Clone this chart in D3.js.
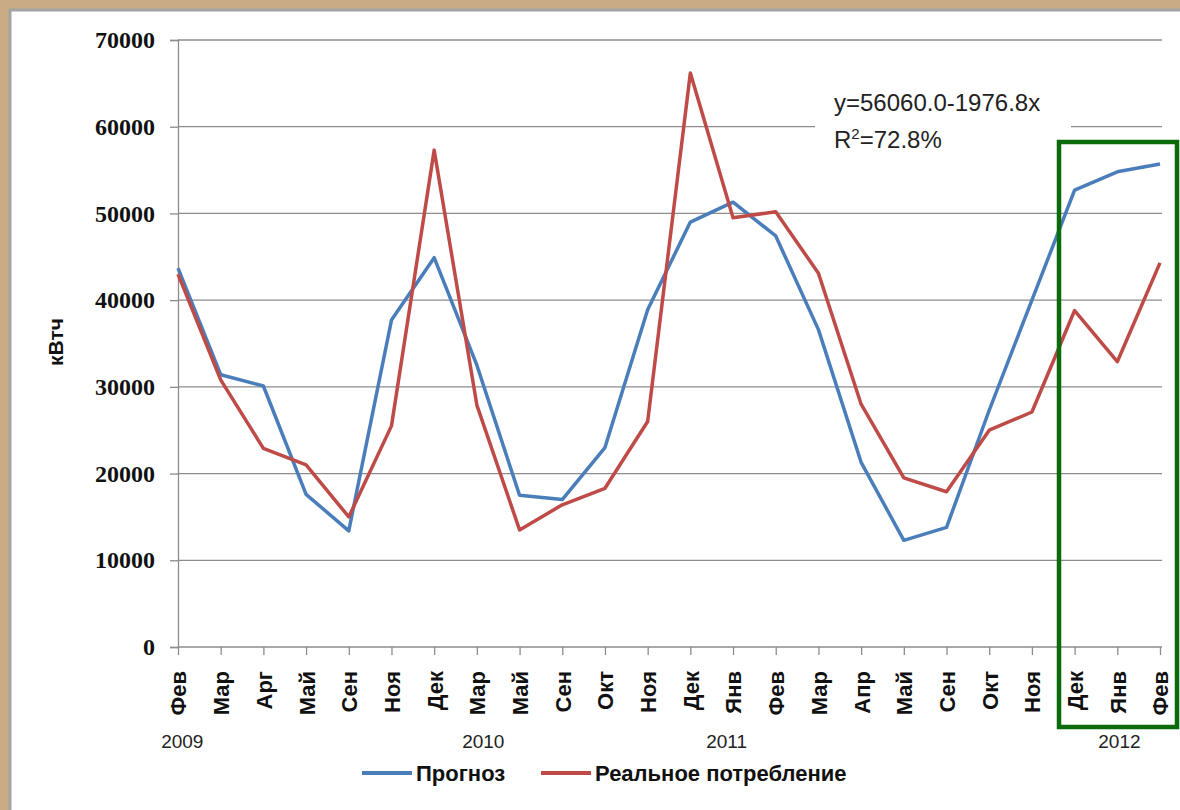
<!DOCTYPE html>
<html>
<head>
<meta charset="utf-8">
<script src="https://cdn.jsdelivr.net/npm/d3@7"></script>
<style>
  html, body { margin: 0; padding: 0; background: #c9ab86; }
  svg { display: block; }
</style>
</head>
<body>
<svg id="chart"></svg>
<script>
// months along the x axis (one point per month)
const months = ['Фев','Мар','Арг','Май','Сен','Ноя','Дек','Мар','Май','Сен','Окт','Ноя',
                'Дек','Янв','Фев','Мар','Апр','Май','Сен','Окт','Ноя','Дек','Янв','Фев'];
// year labels and the month index they sit under
const years = [
  {label: '2009', idx: 0.1},
  {label: '2010', idx: 7.15},
  {label: '2011', idx: 12.85},
  {label: '2012', idx: 22.05}
];
const forecast = [43700, 31400, 30100, 17600, 13400, 37700, 44900, 32500, 17500, 17000, 23000, 38900,
                  49000, 51300, 47400, 36600, 21300, 12300, 13800, 27300, 40000, 52700, 54800, 55700];
const actual   = [43000, 30800, 22900, 21000, 15000, 25500, 57300, 27900, 13500, 16400, 18300, 26000,
                  66200, 49500, 50200, 43100, 28000, 19500, 17900, 25000, 27100, 38800, 32900, 44300];
const yTicks = [0, 10000, 20000, 30000, 40000, 50000, 60000, 70000];

const W = 1180, H = 810;

const svg = d3.select('#chart').attr('width', W).attr('height', H);

// beige frame
svg.append('rect').attr('width', W).attr('height', H).attr('fill', '#c9ab86');
// white panel
svg.append('rect')
    .attr('x', 10).attr('y', 10)
    .attr('width', W).attr('height', H)
    .attr('fill', '#fff')
    .attr('stroke', '#a3a3a3')
    .attr('stroke-width', 3);

const xScale = d3.scalePoint()
    .domain(d3.range(months.length))
    .range([178, 1160]);

const yScale = d3.scaleLinear()
    .domain([0, 70000])
    .range([647, 40]);

// gridlines
svg.append('g')
  .selectAll('line')
  .data(yTicks.filter(d => d > 0))
  .join('line')
    .attr('x1', 178).attr('x2', 1162)
    .attr('y1', d => yScale(d)).attr('y2', d => yScale(d))
    .attr('stroke', '#8c8c8c')
    .attr('stroke-width', 1.3);

// y axis
const yAxis = d3.axisLeft(yScale).tickValues(yTicks).tickFormat(d3.format('d')).tickSize(8).tickPadding(15);
svg.append('g')
    .attr('transform', 'translate(178,0)')
    .call(yAxis)
    .call(g => g.selectAll('path, line').attr('stroke', '#8c8c8c').attr('stroke-width', 1.3))
    .call(g => g.selectAll('text')
        .attr('font-family', '"Liberation Serif", serif')
        .attr('font-weight', 'bold')
        .attr('font-size', 24)
        .attr('fill', '#111'));

// x axis
const xAxis = d3.axisBottom(xScale).tickSize(8).tickSizeOuter(0).tickFormat(i => months[i]);
svg.append('g')
    .attr('transform', 'translate(0,647)')
    .call(xAxis)
    .call(g => g.select('.domain').attr('d', 'M178,0H1162'))
    .call(g => g.selectAll('path, line').attr('stroke', '#8c8c8c').attr('stroke-width', 1.3))
    .call(g => g.selectAll('text')
        .attr('transform', 'rotate(-90)')
        .attr('text-anchor', 'end')
        .attr('x', -24)
        .attr('y', 0)
        .attr('dy', '0.36em')
        .attr('font-family', '"Liberation Sans", Arial, sans-serif')
        .attr('font-weight', 'bold')
        .attr('font-size', 22)
        .attr('fill', '#111'));

// year labels
svg.append('g')
  .selectAll('text')
  .data(years)
  .join('text')
    .attr('x', d => 178 + d.idx * xScale.step())
    .attr('y', 748)
    .attr('text-anchor', 'middle')
    .attr('font-family', '"Liberation Sans", sans-serif')
    .attr('font-size', 19)
    .attr('fill', '#222')
    .text(d => d.label);

// y axis title
svg.append('text')
    .attr('transform', 'translate(63,342) rotate(-90)')
    .attr('text-anchor', 'middle')
    .attr('font-family', '"Liberation Sans", Arial, sans-serif')
    .attr('font-weight', 'bold')
    .attr('font-size', 21)
    .attr('fill', '#111')
    .text('кВтч');

// regression annotation on a white box
svg.append('rect')
    .attr('x', 815).attr('y', 86)
    .attr('width', 256).attr('height', 70)
    .attr('fill', '#fff');
const ann = svg.append('text')
    .attr('font-family', '"Liberation Sans", sans-serif')
    .attr('font-size', 24)
    .attr('fill', '#222');
ann.append('tspan').attr('x', 834).attr('y', 111).text('y=56060.0-1976.8x');
const r2 = ann.append('tspan').attr('x', 834).attr('y', 148);
r2.append('tspan').text('R');
r2.append('tspan').attr('font-size', 15).attr('dy', -9).text('2');
r2.append('tspan').attr('dy', 9).text('=72.8%');

// lines
const line = d3.line()
    .x((d, i) => xScale(i))
    .y(d => yScale(d));

const series = [
  {name: 'Прогноз', values: forecast, color: '#4a7ebb'},
  {name: 'Реальное потребление', values: actual, color: '#be4b48'}
];

svg.append('g')
  .selectAll('path')
  .data(series)
  .join('path')
    .attr('d', d => line(d.values))
    .attr('fill', 'none')
    .attr('stroke', d => d.color)
    .attr('stroke-width', 3.5)
    .attr('stroke-linejoin', 'round');

// legend
const legendX = [362, 541];
const legend = svg.append('g')
  .selectAll('g')
  .data(series)
  .join('g')
    .attr('transform', (d, i) => `translate(${legendX[i]},773)`);
legend.append('line')
    .attr('x1', 0).attr('x2', 50)
    .attr('stroke', d => d.color)
    .attr('stroke-width', 4);
legend.append('text')
    .attr('x', 54).attr('y', 8)
    .attr('font-family', '"Liberation Sans", Arial, sans-serif')
    .attr('font-weight', 'bold')
    .attr('font-size', 22)
    .attr('fill', '#111')
    .text(d => d.name);

// green highlight box around the last three months
svg.append('rect')
    .attr('x', 1059).attr('y', 142)
    .attr('width', 118).attr('height', 585)
    .attr('fill', 'none')
    .attr('stroke', '#0b6b0b')
    .attr('stroke-width', 4.5);
</script>
</body>
</html>
